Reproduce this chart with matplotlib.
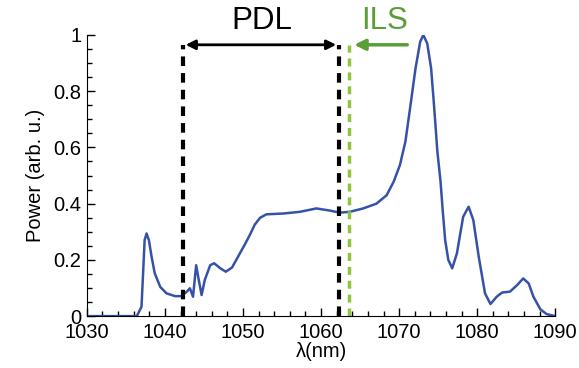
import matplotlib.pyplot as plt
from matplotlib.ticker import MultipleLocator

plt.rcParams["font.family"] = ["Liberation Sans", "DejaVu Sans"]

# spectrum
wl = [1030, 1033, 1035.5, 1036.4, 1037.0, 1037.2, 1037.4, 1037.65, 1037.95,
      1038.3, 1038.7, 1039.4, 1040.2, 1041.3, 1042.1, 1042.8, 1043.2, 1043.6,
      1044.0, 1044.3, 1044.7, 1045.1, 1045.8, 1046.3, 1047.1, 1047.8, 1048.6,
      1049.6, 1050.3, 1050.9, 1051.5, 1052.2, 1053.0, 1055.2, 1057.3, 1059.4,
      1061.2, 1062.4, 1063.7, 1065.4, 1067.1, 1068.4, 1069.3, 1070.1, 1070.8,
      1071.4, 1072.1, 1072.7, 1073.1, 1073.6, 1074.1, 1074.5, 1074.9, 1075.3,
      1075.6, 1075.9, 1076.3, 1076.8, 1077.4, 1078.2, 1078.9, 1079.5, 1080.2,
      1081.0, 1081.7, 1082.5, 1083.2, 1084.2, 1085.1, 1085.9, 1086.6, 1087.2,
      1088.1, 1088.9, 1090]
power = [0.0, 0.0, 0.0, 0.0, 0.033, 0.15, 0.27, 0.294, 0.27,
         0.21, 0.152, 0.104, 0.081, 0.071, 0.071, 0.087, 0.099, 0.069,
         0.181, 0.134, 0.075, 0.128, 0.181, 0.188, 0.17, 0.158, 0.173,
         0.223, 0.258, 0.29, 0.325, 0.35, 0.362, 0.365, 0.371, 0.383,
         0.375, 0.368, 0.371, 0.383, 0.4, 0.43, 0.478, 0.537, 0.62,
         0.739, 0.881, 0.976, 1.0, 0.97, 0.881, 0.739, 0.585, 0.48,
         0.37, 0.27, 0.2, 0.17, 0.223, 0.353, 0.389, 0.342, 0.211,
         0.081, 0.043, 0.069, 0.084, 0.087, 0.11, 0.134, 0.116, 0.069,
         0.024, 0.007, 0.0]

pdl_left = 1042.3
pdl_right = 1062.3
ils = 1063.6

fig = plt.figure(figsize=(5.79, 3.68), dpi=100)
ax = fig.add_axes([0.150, 0.141, 0.809, 0.764])

ax.plot(wl, power, color="#3652a6", lw=1.8, solid_joinstyle="round")

ax.plot([pdl_left, pdl_left], [0, 0.965], color="black", lw=3, dashes=(2.3, 1.7), clip_on=False)
ax.plot([pdl_right, pdl_right], [0, 0.965], color="black", lw=3, dashes=(2.3, 1.7), clip_on=False)
ax.plot([ils, ils], [0, 0.965], color="#8cc63f", lw=2.5, dashes=(2.3, 1.7), clip_on=False)

ax.annotate("", xy=(pdl_left, 0.965), xytext=(pdl_right, 0.965),
            arrowprops=dict(arrowstyle="<|-|>", color="black", lw=2, mutation_scale=14))
ax.annotate("", xy=(ils + 0.3, 0.965), xytext=(1071.4, 0.965),
            arrowprops=dict(arrowstyle="-|>", color="#5a9e38", lw=2.5, mutation_scale=16))

ax.text(1052.4, 1.05, "PDL", fontsize=22.5, ha="center", va="center", color="black")
ax.text(1068.1, 1.05, "ILS", fontsize=22.5, ha="center", va="center", color="#5a9e38")

ax.set_xlim(1030, 1090)
ax.set_ylim(0, 1)
ax.set_xticks([1030, 1040, 1050, 1060, 1070, 1080, 1090])
ax.set_yticks([0, 0.2, 0.4, 0.6, 0.8, 1])
ax.set_yticklabels(["0", "0.2", "0.4", "0.6", "0.8", "1"])
ax.xaxis.set_minor_locator(MultipleLocator(2))
ax.yaxis.set_minor_locator(MultipleLocator(0.05))
ax.tick_params(which="both", direction="in", labelsize=14.5, width=1)
ax.tick_params(which="major", length=6)
ax.tick_params(which="minor", length=3.5)
ax.tick_params(axis="x", pad=5)
ax.tick_params(axis="y", pad=4)
ax.spines["top"].set_visible(False)
ax.spines["right"].set_visible(False)

ax.set_xlabel("λ(nm)", fontsize=14.5, labelpad=0)
ax.set_ylabel("Power (arb. u.)", fontsize=14.5, labelpad=6)

fig.savefig("out.png", dpi=100)
